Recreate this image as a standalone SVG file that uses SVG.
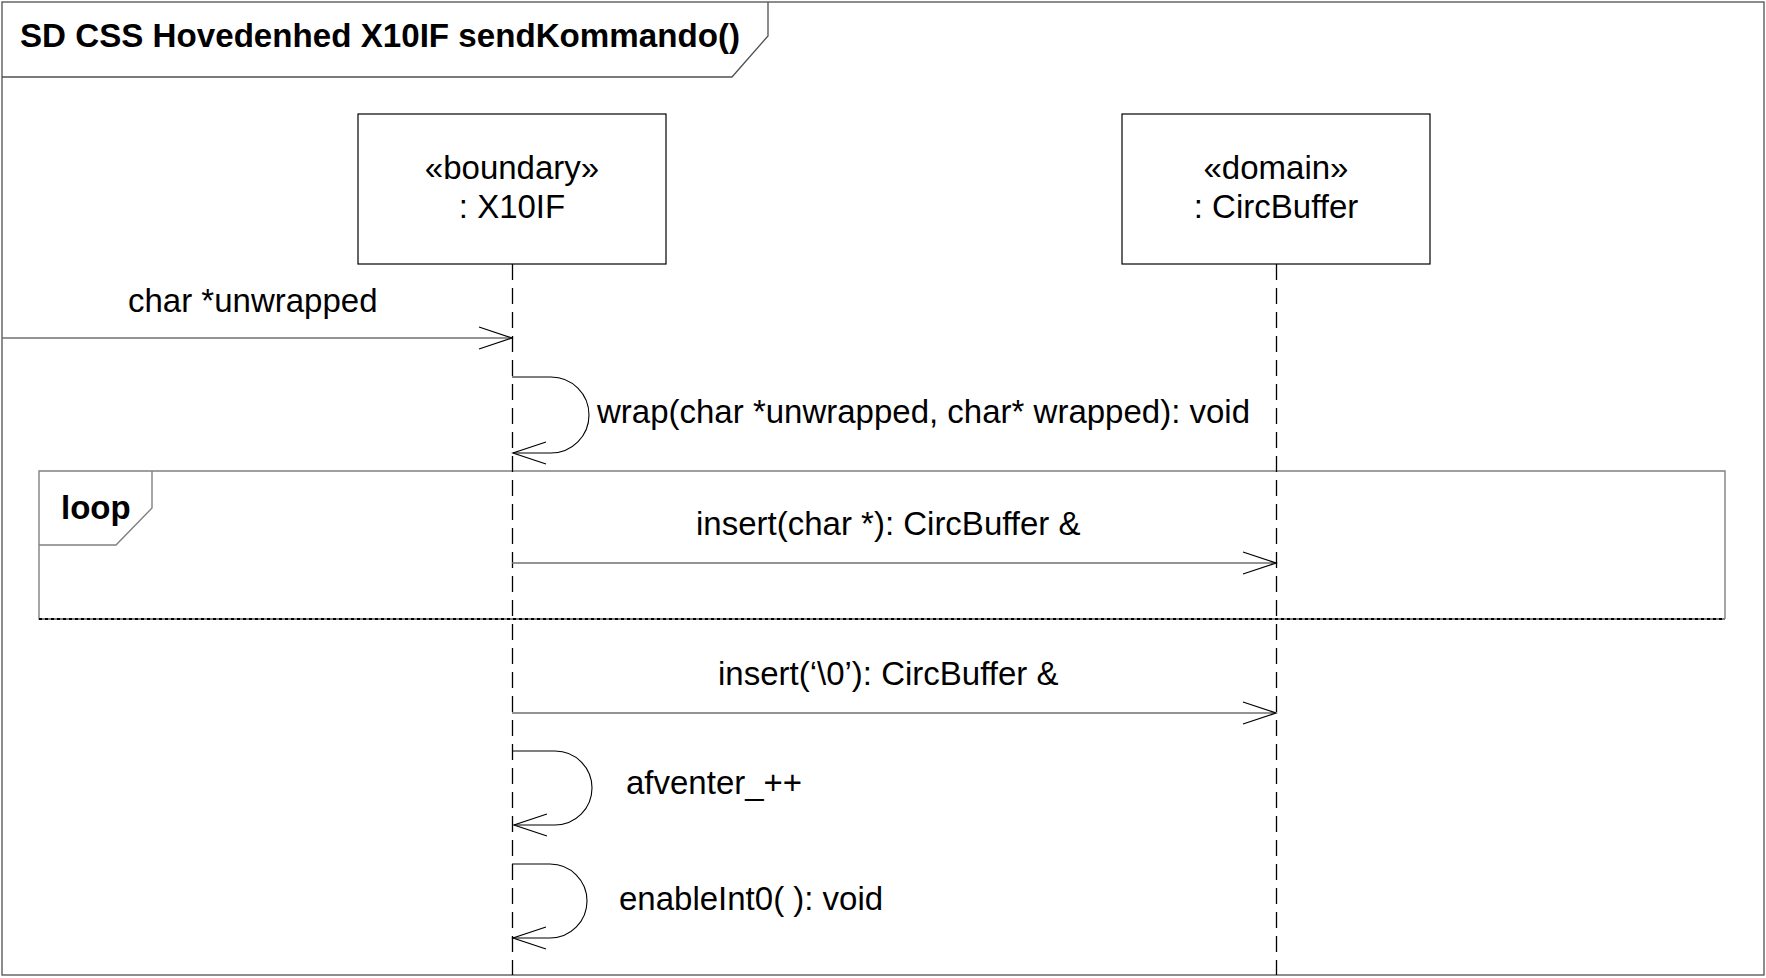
<svg xmlns="http://www.w3.org/2000/svg" width="1766" height="978" viewBox="0 0 1766 978">
<style>
text{font-family:"Liberation Sans",Arial,sans-serif;font-size:33px;fill:#000}
.b{font-weight:bold}
.box{fill:#fff;stroke:#000;stroke-width:1.2}
.life{stroke:#000;stroke-width:1.3;stroke-dasharray:16 8;fill:none}
.msg{stroke:#707070;stroke-width:1.6;fill:none;marker-end:url(#open)}
.self{stroke:#000;stroke-width:1.1;fill:none;marker-end:url(#open)}
.frame{fill:none;stroke:#505050;stroke-width:1.3}
</style>
<defs>
<marker id="open" markerWidth="40" markerHeight="26" refX="34" refY="13" orient="auto" markerUnits="userSpaceOnUse">
<path d="M1,2 L34,13 L1,24" fill="none" stroke="#000" stroke-width="1.2"/>
</marker>
</defs>
<rect width="1766" height="978" fill="#fff"/>
<g id="frame">
<rect class="frame" x="2" y="2" width="1762" height="973"/>
<path class="frame" d="M2,77 H732 L768,36 V2"/>
<text class="b" x="20" y="47" textLength="720" lengthAdjust="spacingAndGlyphs" font-size="32">SD CSS Hovedenhed X10IF sendKommando()</text>
</g>
<g id="loop">
<path d="M116,619 H39 V471 H1725 V619" fill="none" stroke="#808080" stroke-width="1.4"/>
<path d="M39,619 H1725" stroke="#808080" stroke-width="1.8"/>
<path d="M39,619 H1725" stroke="#000" stroke-width="1.8" stroke-dasharray="3 3"/>
<path d="M39,545 H116 L152,508 V471" fill="none" stroke="#808080" stroke-width="1.4"/>
<text class="b" x="61" y="519">loop</text>
</g>
<g id="x10if">
<rect class="box" x="358" y="114" width="308" height="150"/>
<text x="512" y="179" text-anchor="middle">«boundary»</text>
<text x="512" y="218" text-anchor="middle">: X10IF</text>
<line class="life" x1="512.5" y1="264" x2="512.5" y2="975"/>
</g>
<g id="circbuffer">
<rect class="box" x="1122" y="114" width="308" height="150"/>
<text x="1276" y="179" text-anchor="middle">«domain»</text>
<text x="1276" y="218" text-anchor="middle">: CircBuffer</text>
<line class="life" x1="1276.5" y1="264" x2="1276.5" y2="975"/>
</g>
<g id="connectors">
<line class="msg" x1="2" y1="338" x2="512" y2="338"/>
<text x="128" y="312">char *unwrapped</text>
<path class="self" d="M512,377 H551 A38,38 0 0 1 551,453 H513"/>
<text x="597" y="423">wrap(char *unwrapped, char* wrapped): void</text>
<line class="msg" x1="512" y1="563" x2="1276" y2="563"/>
<text x="696" y="535">insert(char *): CircBuffer &amp;</text>
<line class="msg" x1="512" y1="713" x2="1276" y2="713"/>
<text x="718" y="685">insert(‘\0’): CircBuffer &amp;</text>
<path class="self" d="M512,751 H555 A37,37 0 0 1 555,825 H514"/>
<text x="626" y="794">afventer_++</text>
<path class="self" d="M512,864 H550 A37,37 0 0 1 550,938 H513"/>
<text x="619" y="910">enableInt0( ): void</text>
</g>
</svg>
